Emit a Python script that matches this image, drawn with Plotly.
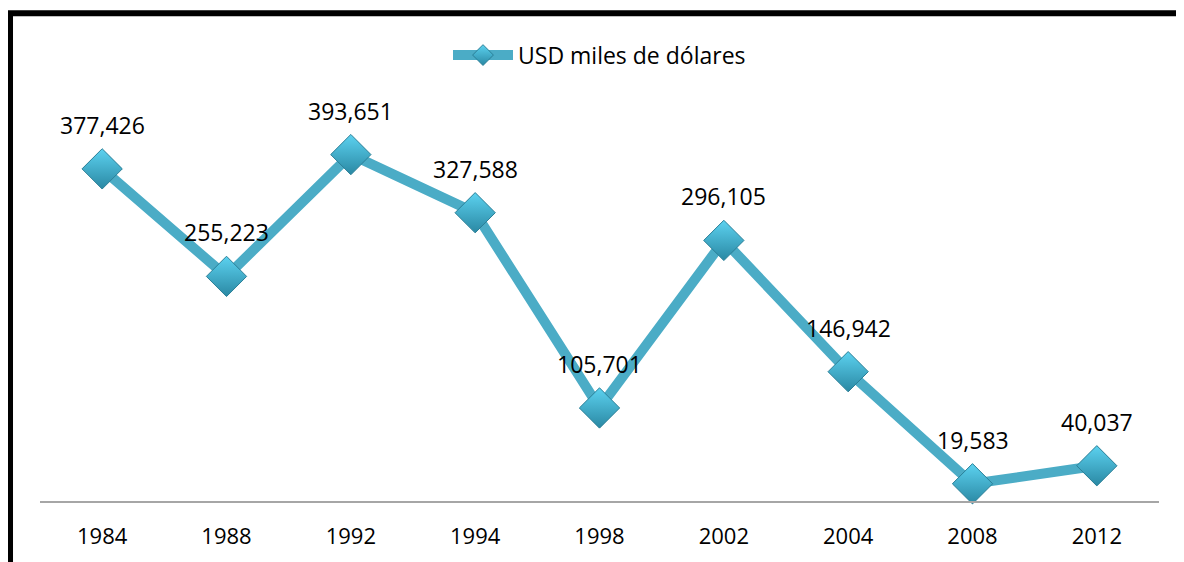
import plotly.graph_objects as go

anios = ["1984", "1988", "1992", "1994", "1998", "2002", "2004", "2008", "2012"]
usd_miles = [377426, 255223, 393651, 327588, 105701, 296105, 146942, 19583, 40037]
etiquetas = [f"{v:,}" for v in usd_miles]

COLOR = "#4BACC6"
FUENTE = "Open Sans"

fig = go.Figure()

fig.add_trace(go.Scatter(
    x=anios,
    y=usd_miles,
    mode="lines+markers",
    name="USD miles de dólares",
    line=dict(color=COLOR, width=10),
    marker=dict(
        symbol="diamond",
        size=31,
        color="#5CD2F0",
        gradient=dict(type="vertical", color="#2A88A3"),
        line=dict(color="#2A7F97", width=1),
    ),
    cliponaxis=False,
))

# etiquetas de datos encima de cada punto (x por índice de categoría)
for i, (v, t) in enumerate(zip(usd_miles, etiquetas)):
    fig.add_annotation(
        x=i, y=v, text=t, showarrow=False, yshift=44,
        font=dict(family=FUENTE, size=23, color="black"),
    )

# marco negro del gráfico
fig.add_shape(
    type="rect", xref="paper", yref="paper",
    x0=-0.0268, x1=1.2, y0=-0.3, y1=1.232,
    line=dict(color="black", width=6), fillcolor="rgba(0,0,0,0)",
    layer="below",
)

fig.update_layout(
    width=1184,
    height=562,
    template="plotly_white",
    paper_bgcolor="white",
    plot_bgcolor="white",
    font=dict(family=FUENTE, size=22, color="black"),
    margin=dict(l=32, r=33, t=97, b=69, autoexpand=False),
    showlegend=True,
    legend=dict(
        orientation="h",
        x=0.5, xanchor="center",
        y=1.126, yanchor="middle",
        font=dict(family=FUENTE, size=23, color="black"),
        bgcolor="rgba(0,0,0,0)",
        itemwidth=60,
    ),
    xaxis=dict(
        type="category",
        range=[-0.5, len(anios) - 0.5],
        automargin=False,
        showgrid=False,
        showline=True,
        linecolor="#A6A6A6",
        linewidth=2,
        ticks="",
        ticklabelstandoff=15,
        tickfont=dict(family=FUENTE, size=22, color="black"),
        fixedrange=True,
    ),
    yaxis=dict(
        range=[0, 450000],
        visible=False,
        showgrid=False,
        zeroline=False,
        fixedrange=True,
    ),
)

fig.write_html("out.html")
